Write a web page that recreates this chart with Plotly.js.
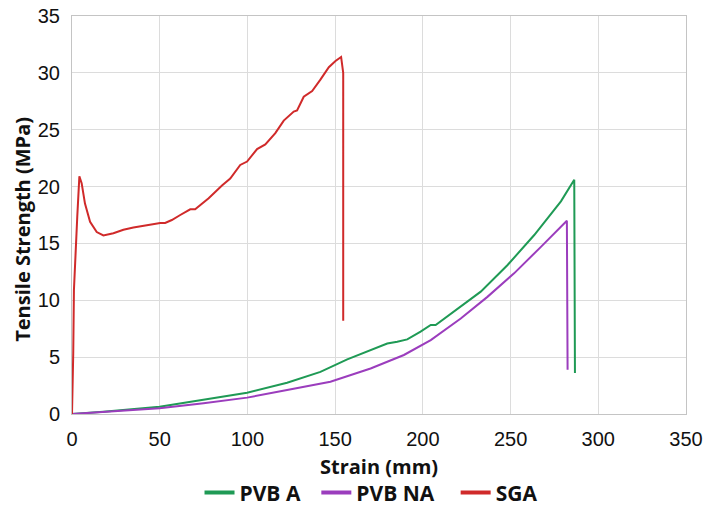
<!DOCTYPE html>
<html>
<head>
<meta charset="utf-8">
<script src="https://cdn.plot.ly/plotly-3.0.1.min.js"></script>
<style>html,body{margin:0;padding:0;background:#fff;}#chart{width:703px;height:508px;}</style>
</head>
<body>
<div id="chart"></div>
<script>
const seriesNames = ["PVB A", "PVB NA", "SGA"];
const seriesColors = ["#1f9a55", "#9b3dbd", "#d02a2a"];
const xTitle = "Strain (mm)";
const yTitle = "Tensile Strength (MPa)";

const pvbA_x = [0, 17.9, 49.9, 75, 99.8, 122.6, 141.6, 156.9, 172.1, 179.7, 185.4, 191.1, 198.7, 204.5, 207.3, 217.8, 233, 248.3, 263.5, 278.7, 286.3, 286.7];
const pvbA_y = [0, 0.2, 0.64, 1.23, 1.87, 2.75, 3.7, 4.81, 5.69, 6.2, 6.36, 6.56, 7.24, 7.83, 7.83, 9.0, 10.76, 13.1, 15.74, 18.7, 20.6, 3.6];

const pvbNA_x = [0, 20, 49.9, 75, 99.8, 122.6, 147.3, 170.2, 189.2, 204.5, 221.6, 236.8, 252, 267.3, 282.1, 282.5];
const pvbNA_y = [0, 0.2, 0.5, 0.94, 1.44, 2.11, 2.84, 4.0, 5.19, 6.5, 8.4, 10.3, 12.37, 14.7, 17.0, 3.9];

const sga_x = [0, 0.4, 0.7, 1.1, 1.7, 3.0, 4.2, 5.5, 7.4, 10.3, 14.1, 17.9, 23.6, 29.3, 35.0, 42.6, 50.3, 53.1, 56.9, 61.7, 67.4, 70.2, 77.9, 85.5, 90.2, 95.9, 99.8, 105.5, 110.2, 115.9, 120.7, 126.4, 128.3, 132.1, 136.9, 141.6, 146.4, 150.2, 153.4, 154.6, 154.6];
const sga_y = [0, 2.5, 5.3, 10.9, 13.25, 17.35, 20.9, 20.3, 18.5, 16.9, 16.0, 15.7, 15.9, 16.2, 16.4, 16.6, 16.8, 16.8, 17.06, 17.5, 18.0, 18.0, 18.97, 20.1, 20.7, 21.9, 22.2, 23.3, 23.7, 24.7, 25.8, 26.6, 26.7, 27.9, 28.4, 29.4, 30.5, 31.05, 31.4, 30.0, 8.2];

const xTicks = [0, 50, 100, 150, 200, 250, 300, 350];
const yTicks = [0, 5, 10, 15, 20, 25, 30, 35];

const xs = [pvbA_x, pvbNA_x, sga_x];
const ys = [pvbA_y, pvbNA_y, sga_y];
const legendPad = ["\u00a0\u00a0", "\u00a0\u00a0\u00a0", ""];

const traces = [];
for (let i = 0; i < 3; i++) {
  traces.push({
    x: xs[i], y: ys[i], type: "scatter", mode: "lines",
    line: {color: seriesColors[i], width: 2},
    name: seriesNames[i], showlegend: false, hoverinfo: "skip"
  });
}
for (let i = 0; i < 3; i++) {
  traces.push({
    x: [null], y: [null], type: "scatter", mode: "lines",
    line: {color: seriesColors[i], width: 4},
    name: seriesNames[i] + legendPad[i], showlegend: true
  });
}

const tickFont = {family: "Liberation Sans Narrow, Liberation Sans, Arial, sans-serif", size: 20, color: "#111"};
const titleFont = {family: "Open Sans, sans-serif", size: 20, color: "#111", weight: "bold"};

const layout = {
  width: 703, height: 508,
  margin: {l: 72, r: 17, t: 16, b: 94},
  paper_bgcolor: "#fff", plot_bgcolor: "#fff",
  showlegend: true,
  xaxis: {
    range: [0, 350], tickvals: xTicks, ticktext: xTicks.map(String),
    automargin: false,
    showgrid: true, gridcolor: "#dcdcdc", gridwidth: 1,
    zeroline: false, showline: true, linecolor: "#c4c4c4", linewidth: 1, mirror: true,
    ticks: "outside", ticklen: 7, tickcolor: "rgba(0,0,0,0)",
    tickfont: tickFont
  },
  yaxis: {
    range: [0, 35], tickvals: yTicks, ticktext: yTicks.map(String),
    automargin: false,
    showgrid: true, gridcolor: "#dcdcdc", gridwidth: 1,
    zeroline: false, showline: true, linecolor: "#c4c4c4", linewidth: 1, mirror: true,
    ticks: "outside", ticklen: 7, tickcolor: "rgba(0,0,0,0)",
    tickfont: tickFont
  },
  annotations: [
    {text: xTitle, xref: "paper", yref: "paper", x: 0.5, y: -0.131,
     xanchor: "center", yanchor: "middle", showarrow: false, font: titleFont},
    {text: yTitle, xref: "paper", yref: "paper", x: -0.08, y: 0.465, textangle: -90,
     xanchor: "center", yanchor: "middle", showarrow: false, font: titleFont}
  ],
  legend: {
    orientation: "h", x: 0.487, xanchor: "center",
    yref: "container", y: 0.03, yanchor: "middle",
    font: {family: "Open Sans, sans-serif", size: 21, color: "#111", weight: "bold"},
    itemwidth: 30, traceorder: "normal"
  }
};

Plotly.newPlot("chart", traces, layout, {displayModeBar: false, staticPlot: true});
</script>
</body>
</html>
